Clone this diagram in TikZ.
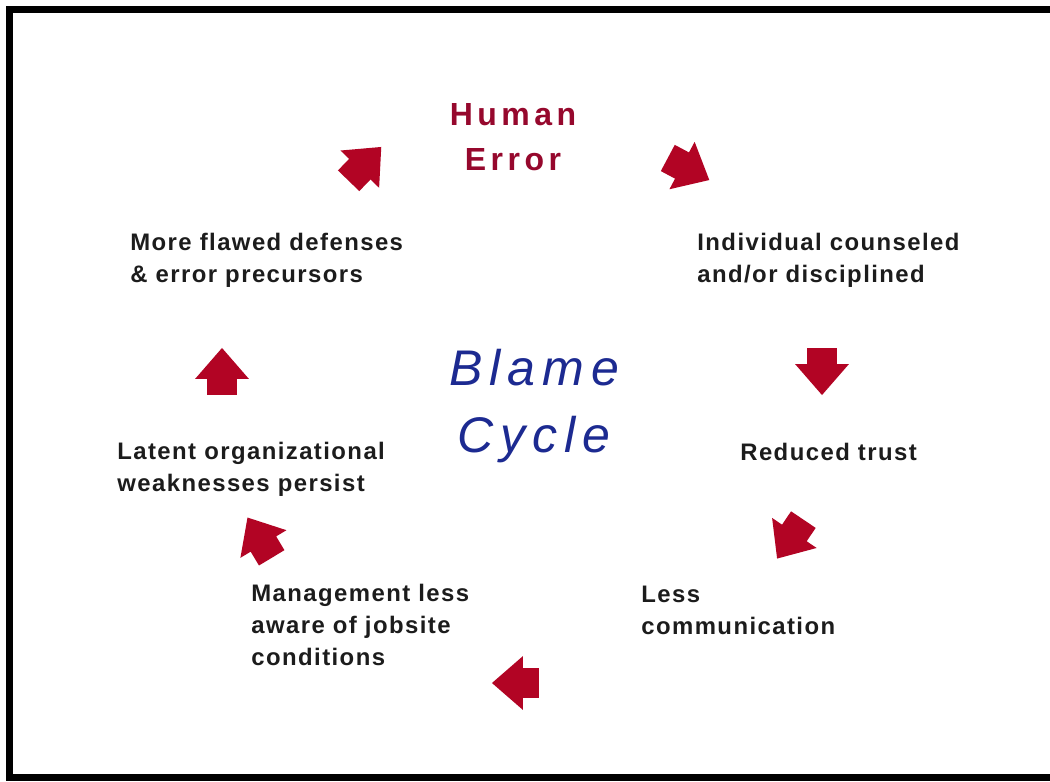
\documentclass[tikz,border=0pt]{standalone}
\usepackage{fontspec}
\setmainfont{Liberation Sans}
\newfontfamily\stepfont[LetterSpace=6]{Liberation Sans}
\newfontfamily\titlefont[LetterSpace=14]{Liberation Sans}
\usetikzlibrary{shapes.arrows}
\definecolor{arrowred}{RGB}{178,4,36}
\definecolor{errorred}{RGB}{150,8,45}
\definecolor{cycleblue}{RGB}{28,42,145}
\definecolor{steptext}{RGB}{28,28,28}
\tikzset{
  stepnode/.style={anchor=west, align=left, inner sep=0pt, text=steptext,
    font=\stepfont\bfseries\fontsize{13.6}{18.1}\selectfont},
  turnarrow/.style={single arrow, fill=arrowred, draw=none,
    inner xsep=0pt, inner ysep=0.29cm,
    minimum height=0.94cm, minimum width=1.06cm,
    single arrow head extend=0.24cm, single arrow tip angle=82},
}
\begin{document}
\begin{tikzpicture}[x=0.02cm, y=-0.02cm]
    \useasboundingbox (0,0) rectangle (1050,781);
    \fill[white] (0,0) rectangle (1050,781);
    \fill[black] (6,6) rectangle (1050,13);
    \fill[black] (6,6) rectangle (13,781);
    \fill[black] (6,774) rectangle (1050,781);
    % centre of the cycle
    \node[align=center, inner sep=0pt, text=errorred, font=\titlefont\bfseries\fontsize{18.2}{25.5}\selectfont] (error) at (513,137) {Human\\Error};
    \node[align=center, inner sep=0pt, text=cycleblue, font=\titlefont\itshape\fontsize{28.5}{38.5}\selectfont] (blame) at (534,406) {Blame\\Cycle};
    % steps round the cycle
    \node[stepnode] (counsel) at (697,260) {Individual counseled\\and/or disciplined};
    \node[stepnode] (trust) at (740,452) {Reduced trust};
    \node[stepnode] (comm) at (641,610) {Less\\communication};
    \node[stepnode] (aware) at (251,625) {Management less\\aware of jobsite\\conditions};
    \node[stepnode] (latent) at (117,469) {Latent organizational\\weaknesses persist};
    \node[stepnode] (flawed) at (130,260) {More flawed defenses\\\& error precursors};
    % block arrows
    \node[turnarrow, rotate=-28] (a1) at (681,165) {};
    \node[turnarrow, rotate=-90] (a2) at (822,363) {};
    \node[turnarrow, rotate=-124] (a3) at (795,532) {};
    \node[turnarrow, rotate=180] (a4) at (524,683) {};
    \node[turnarrow, rotate=121] (a5) at (264,545) {};
    \node[turnarrow, rotate=90] (a6) at (222,380) {};
    \node[turnarrow, rotate=46] (a7) at (359,170) {};
\end{tikzpicture}
\end{document}
